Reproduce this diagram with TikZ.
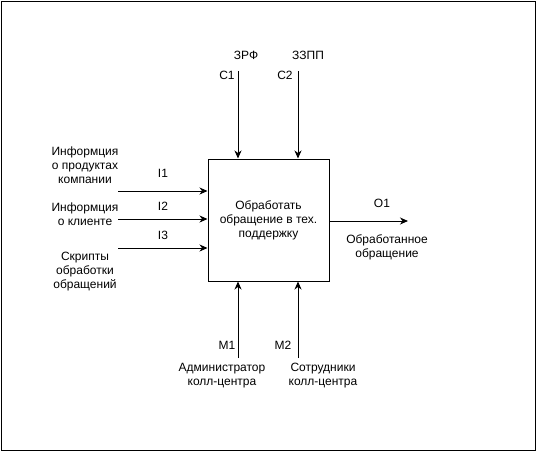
\documentclass[tikz,border=0pt]{standalone}
\usepackage{fontspec}
\setmainfont{Liberation Sans}
\usepackage{tikz}
\usetikzlibrary{arrows.meta,positioning,shapes}

\begin{document}
\begin{tikzpicture}[
            x=1pt,y=-1pt,
            txt/.style={align=center,inner sep=0pt,font=\fontsize{12}{14}\selectfont},
            func/.style={draw,rectangle,line width=1pt,minimum width=121,minimum height=122,txt},
            arr/.style={draw,line width=1pt,-{Stealth[length=8pt,width=7pt,inset=2.5pt]}}
          ]
          \useasboundingbox (0,0) rectangle (536,451);
          \draw[line width=1pt] (1,1) rectangle (535,450);

          \node[func] (box) at (268.5,220) {Обработать\\обращение в тех.\\поддержку};

          %controls
          \coordinate (c1) at (238,71);
          \coordinate (c2) at (298,71);
          \node[txt] (zrf) at (246,55) {ЗРФ};
          \node[txt] (zzpp) at (308,55) {ЗЗПП};
          \node[txt] (c1l) at (227,75) {C1};
          \node[txt] (c2l) at (285,75) {C2};

          %inputs
          \coordinate (i1) at (118,191);
          \coordinate (i2) at (118,219);
          \coordinate (i3) at (118,248);
          \node[txt] (in1) at (85,165) {Информция\\о продуктах\\компании};
          \node[txt] (in2) at (85,214) {Информция\\о клиенте};
          \node[txt] (in3) at (85,272) {Скрипты\\обработки\\обращений};
          \node[txt] (i1l) at (163,173) {I1};
          \node[txt] (i2l) at (163,206) {I2};
          \node[txt] (i3l) at (163,235) {I3};

          %output
          \coordinate (o1) at (408,221);
          \node[txt] (o1l) at (382,203) {O1};
          \node[txt] (out) at (387,247) {Обработанное\\обращение};

          %mechanisms
          \coordinate (m1) at (238,358);
          \coordinate (m2) at (298,358);
          \node[txt] (m1l) at (227,345) {M1};
          \node[txt] (m2l) at (283,345) {M2};
          \node[txt] (adm) at (222,376) {Администратор\\колл-центра};
          \node[txt] (staff) at (323,376) {Сотрудники\\колл-центра};

          \path[arr] (c1) -- (c1 |- box.north);
          \path[arr] (c2) -- (c2 |- box.north);
          \path[arr] (i1) -- (i1 -| box.west);
          \path[arr] (i2) -- (i2 -| box.west);
          \path[arr] (i3) -- (i3 -| box.west);
          \path[arr] (o1 -| box.east) -- (o1);
          \path[arr] (m1) -- (m1 |- box.south);
          \path[arr] (m2) -- (m2 |- box.south);

      \end{tikzpicture}
\end{document}
